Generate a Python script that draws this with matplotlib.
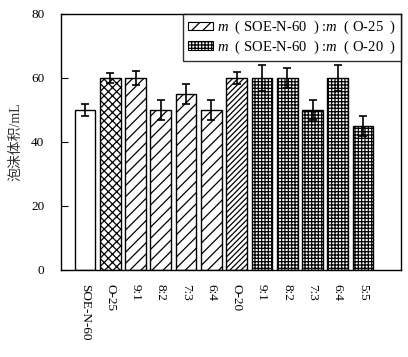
import matplotlib
matplotlib.use('Agg')
import matplotlib.pyplot as plt
from matplotlib.patches import Patch

plt.rcParams['font.family'] = ['Liberation Serif', 'Noto Sans CJK SC']
plt.rcParams['mathtext.fontset'] = 'custom'
plt.rcParams['mathtext.it'] = 'Liberation Serif:italic'
plt.rcParams['mathtext.rm'] = 'Liberation Serif'
plt.rcParams['hatch.linewidth'] = 0.9

############################  DATA  ###########################################

labels = ['SOE-N-60', 'O-25', '9:1', '8:2', '7:3', '6:4',
          'O-20', '9:1', '8:2', '7:3', '6:4', '5:5']
volumes = [50, 60, 60, 50, 55, 50, 60, 60, 60, 50, 60, 45]
errors = [2, 1.5, 2.2, 3, 3, 3, 2, 4, 3, 3, 4, 3]
hatches = ['', 'xxxx', '///', '///', '///', '///',
           '//////', '+++++', '+++++', '+++++', '+++++', '+++++']
legendLabels = ['$m$  ( SOE-N-60  ) :$m$  ( O-25  )',
                '$m$  ( SOE-N-60  ) :$m$  ( O-20  )']
legendHatches = ['///', '+++++']

############################  PLOT  ###########################################

fig = plt.figure(figsize=(4.08, 3.57), dpi=100)
ax = fig.add_axes([61/408, 1 - 270/357, 340/408, 256/357])

x = list(range(len(labels)))
for i in x:
    ax.bar(i, volumes[i], width=0.82, color='white', edgecolor='black',
           linewidth=1.0, hatch=hatches[i])
ax.errorbar(x, volumes, yerr=errors, fmt='none', ecolor='black',
            elinewidth=1.2, capsize=3, capthick=1.2)

ax.set_xlim(-0.95, 12.5)
ax.set_ylim(0, 80)
ax.set_yticks([0, 20, 40, 60, 80])
ax.set_xticks(x)
ax.set_xticklabels(labels, rotation=270, va='top', ha='center')
ax.tick_params(axis='y', direction='in', length=5, labelsize=9.5, pad=12)
ax.tick_params(axis='x', length=0, labelsize=9.5, pad=10)
ax.set_ylabel('泡沫体积/mL', fontsize=10, labelpad=6, color='#333333')
for s in ax.spines.values():
    s.set_linewidth(1.0)

handles = [Patch(facecolor='white', edgecolor='black', hatch=h, linewidth=0.8)
           for h in legendHatches]
leg = ax.legend(handles, legendLabels, loc='upper right', fontsize=10.5,
                frameon=True, fancybox=False, edgecolor='black',
                borderaxespad=0, handlelength=1.7, handleheight=0.5,
                handletextpad=0.3, labelspacing=0.15, borderpad=0.35)
leg.get_frame().set_linewidth(1.0)

fig.savefig('out.png', dpi=100)
